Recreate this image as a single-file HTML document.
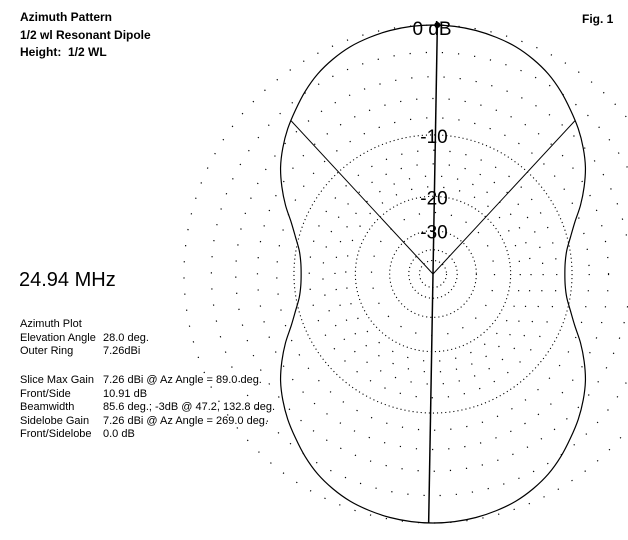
<!DOCTYPE html>
<html><head><meta charset="utf-8"><style>
html,body{margin:0;padding:0;background:#fff;}
body{width:628px;height:540px;position:relative;overflow:hidden;font-family:"Liberation Sans",sans-serif;color:#000;}
.t{position:absolute;white-space:nowrap;}
.b{font-weight:bold;font-size:12px;}
.s{font-size:11px;}
</style></head><body>
<div class="t b" style="left:20px;top:10px">Azimuth Pattern</div>
<div class="t b" style="left:20px;top:28px">1/2 wl Resonant Dipole</div>
<div class="t b" style="left:20px;top:45px">Height:&nbsp; 1/2 WL</div>
<div class="t b" style="left:582px;top:12px">Fig. 1</div>
<div class="t" style="left:19px;top:269px;font-size:20px">24.94 MHz</div>
<div>
<div class="t s" style="left:20px;top:318px">Azimuth Plot</div>
<div class="t s" style="left:20px;top:332px">Elevation Angle</div><div class="t s" style="left:103px;top:332px">28.0 deg.</div>
<div class="t s" style="left:20px;top:345px">Outer Ring</div><div class="t s" style="left:103px;top:345px">7.26dBi</div>
<div class="t s" style="left:20px;top:374px">Slice Max Gain</div><div class="t s" style="left:103px;top:374px">7.26 dBi @ Az Angle = 89.0 deg.</div>
<div class="t s" style="left:20px;top:388px">Front/Side</div><div class="t s" style="left:103px;top:388px">10.91 dB</div>
<div class="t s" style="left:20px;top:401px">Beamwidth</div><div class="t s" style="left:103px;top:401px">85.6 deg.; -3dB @ 47.2, 132.8 deg.</div>
<div class="t s" style="left:20px;top:415px">Sidelobe Gain</div><div class="t s" style="left:103px;top:415px">7.26 dBi @ Az Angle = 269.0 deg.</div>
<div class="t s" style="left:20px;top:428px">Front/Sidelobe</div><div class="t s" style="left:103px;top:428px">0.0 dB</div>
</div>
<svg id="plot" width="628" height="540" style="position:absolute;left:0;top:0"></svg>
<script>
// quadrant pattern in dB, azimuth 0..90 step 5 (mirrored to other quadrants)
const quadAngles = [0,5,10,15,20,25,30,35,40,45,50,55,60,65,70,75,80,85,90];
const quadDb = [-10.91,-10.8,-10.4,-9.6,-8.6,-7.3,-6.1,-5.0,-4.1,-3.3,-2.6,-1.9,-1.3,-0.85,-0.5,-0.28,-0.12,-0.03,0];
const ringDb = [-10,-20,-30,-40,-50];
const ringLabels = ["-10","-20","-30"];
const dotDb = [0,-2,-4,-6,-8,-12,-14,-16,-18,-24];
const beamAngles = [47.2,132.8];
const beamDb = -3;
const maxAngles = [89,269];

const svg = document.getElementById('plot');
const NS = 'http://www.w3.org/2000/svg';
const cx = 433, cy = 274, R = 249;
function rad(db){ return R*Math.pow(0.89,-db/2); }
function pt(az,db){ const a=az*Math.PI/180, r=rad(db); return [cx+r*Math.cos(a), cy-r*Math.sin(a)]; }
function mk(tag,attrs){ const e=document.createElementNS(NS,tag); for(const k in attrs) e.setAttribute(k,attrs[k]); svg.appendChild(e); return e; }

// sparse dotted arcs at 2 dB steps
dotDb.forEach(d=>{
  const e=mk('circle',{cx:cx,cy:cy,r:rad(d),fill:'none',stroke:'#000','stroke-width':1.2,'stroke-dasharray':'1.2 15'});
  
  
});
// major rings
ringDb.forEach(d=>{
  const e=mk('circle',{cx:cx,cy:cy,r:rad(d),fill:'none',stroke:'#000','stroke-width':1.1,'stroke-dasharray':'1.1 3'});
  
  
});
// pattern
const full=[];
for(let q=0;q<4;q++){
  for(let i=0;i<quadAngles.length-1;i++){
    let a, d;
    if(q===0){a=quadAngles[i]; d=quadDb[i];}
    else if(q===1){a=180-quadAngles[quadAngles.length-1-i]; d=quadDb[quadAngles.length-1-i];}
    else if(q===2){a=180+quadAngles[i]; d=quadDb[i];}
    else {a=360-quadAngles[quadAngles.length-1-i]; d=quadDb[quadAngles.length-1-i];}
    full.push(pt(a,d));
  }
}
let dstr='';
const n=full.length;
for(let i=0;i<n;i++){
  const p0=full[(i-1+n)%n],p1=full[i],p2=full[(i+1)%n],p3=full[(i+2)%n];
  if(i===0) dstr+='M'+p1[0].toFixed(2)+','+p1[1].toFixed(2);
  const c1=[p1[0]+(p2[0]-p0[0])/6,p1[1]+(p2[1]-p0[1])/6], c2=[p2[0]-(p3[0]-p1[0])/6,p2[1]-(p3[1]-p1[1])/6];
  dstr+='C'+c1.map(v=>v.toFixed(2)).join(',')+' '+c2.map(v=>v.toFixed(2)).join(',')+' '+p2.map(v=>v.toFixed(2)).join(',');
}
const pat=mk('path',{d:dstr+'Z',fill:'none',stroke:'#000','stroke-width':1.2});


// max gain line
const pa=pt(maxAngles[0],0), pb=pt(maxAngles[1],0);
const ml=mk('line',{x1:pa[0],y1:pa[1],x2:pb[0],y2:pb[1],stroke:'#000','stroke-width':1.5});


const md=mk('circle',{cx:pa[0],cy:pa[1],r:3,fill:'#000'});


// beamwidth lines
beamAngles.forEach(a=>{
  const p=pt(a,beamDb);
  const e=mk('line',{x1:cx,y1:cy,x2:p[0],y2:p[1],stroke:'#000','stroke-width':1});
  
  
});
// labels
function lbl(txt,x,y){
  const e=mk('text',{x:x,y:y,'font-family':'Liberation Sans, sans-serif','font-size':19,'text-anchor':'middle',fill:'#000'});
  e.textContent=txt;
  
  
}
lbl('0 dB',432,35);
ringLabels.forEach((t,i)=>{ lbl(t,434,cy-rad(ringDb[i])+8); });
</script>
</body></html>
